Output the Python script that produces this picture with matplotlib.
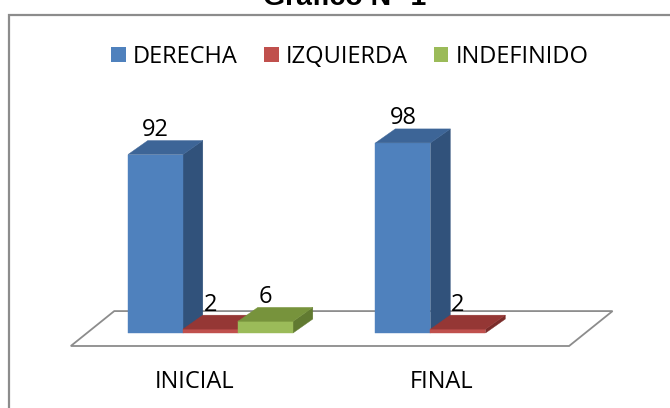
import matplotlib
matplotlib.use("Agg")
import matplotlib.pyplot as plt
from matplotlib.patches import Rectangle, Polygon

# data
categories = ["INICIAL", "FINAL"]
series_names = ["DERECHA", "IZQUIERDA", "INDEFINIDO"]
derecha = [92, 98]
izquierda = [2, 2]
indefinido = [6, None]

series_values = [derecha, izquierda, indefinido]
front_colors = ["#4F81BD", "#C0504D", "#9BBB59"]
top_colors = ["#3D6597", "#953735", "#77933C"]
side_colors = ["#31527B", "#7A2C2A", "#617A31"]

# pseudo 3d geometry in data units (x: bar widths, y: value units)
group_step = 4.5
depth_x, depth_y = 0.36, 7.2
floor_front = (-0.29, -6.7)
floor_back = (0.5, 11.3)

plt.rcParams["font.family"] = ["Open Sans", "DejaVu Sans"]

fig = plt.figure(figsize=(6.7, 4.08), dpi=100)
ax = fig.add_axes([0, 0, 1, 1])
ax.set_xlim(-210.5 / 55, (670 - 210.5) / 55)
ax.set_ylim(-(408 - 333) / 1.94, 333 / 1.94)
ax.axis("off")

# outer frame (cropped at right and bottom)
fig.patches.append(Rectangle((8.5 / 670, -0.1), 1.2, 1.1 - 15 / 408,
                             transform=fig.transFigure, fill=False,
                             edgecolor="#8C8C8C", linewidth=1.6))

# floor
left = -group_step / 2
right = group_step * (len(categories) - 1) + group_step / 2 + 0.06
floor = Polygon([(left + floor_front[0], floor_front[1]),
                 (right + floor_front[0], floor_front[1]),
                 (right + floor_back[0], floor_back[1]),
                 (left + floor_back[0], floor_back[1])],
                closed=True, facecolor="white", edgecolor="#8C8C8C",
                linewidth=1.3, zorder=1)
ax.add_patch(floor)

z = 2
for c, cat in enumerate(categories):
    for s, vals in enumerate(series_values):
        v = vals[c]
        if v is None:
            continue
        x0 = c * group_step - 1.5 + s
        front = Rectangle((x0, 0), 1, v, facecolor=front_colors[s],
                          edgecolor=front_colors[s], linewidth=0.3, zorder=z)
        top = Polygon([(x0, v), (x0 + 1, v), (x0 + 1 + depth_x, v + depth_y),
                       (x0 + depth_x, v + depth_y)], closed=True,
                      facecolor=top_colors[s], edgecolor=top_colors[s],
                      linewidth=0.3, zorder=z)
        side = Polygon([(x0 + 1, 0), (x0 + 1 + depth_x, depth_y),
                        (x0 + 1 + depth_x, v + depth_y), (x0 + 1, v)],
                       closed=True, facecolor=side_colors[s],
                       edgecolor=side_colors[s], linewidth=0.3, zorder=z)
        ax.add_patch(side)
        ax.add_patch(front)
        ax.add_patch(top)
        z += 1
        ax.text(x0 + 0.5, v + depth_y + 2.3, str(v), ha="center",
                va="baseline", fontsize=17, color="black", zorder=20)
    ax.text(c * group_step + floor_front[0], -28.4, cat, ha="center",
            va="baseline", fontsize=17, color="black")

# legend
handles = [Rectangle((0, 0), 1, 1, facecolor=col, edgecolor="none")
           for col in front_colors]
fig.legend(handles, series_names, loc="center", bbox_to_anchor=(350 / 670, 1 - 57 / 408),
           ncol=3, frameon=False, fontsize=17, handlelength=0.62,
           handleheight=0.62, handletextpad=0.3, columnspacing=1.1,
           borderpad=0)

# title, mostly cut off at the top edge
fig.text(345 / 670, 1 - 5 / 408, "Gráfico N° 1", ha="center", va="baseline",
         fontsize=20.5, fontweight="bold", family=["Liberation Sans", "DejaVu Sans"])

fig.savefig("out.png", dpi=100)
